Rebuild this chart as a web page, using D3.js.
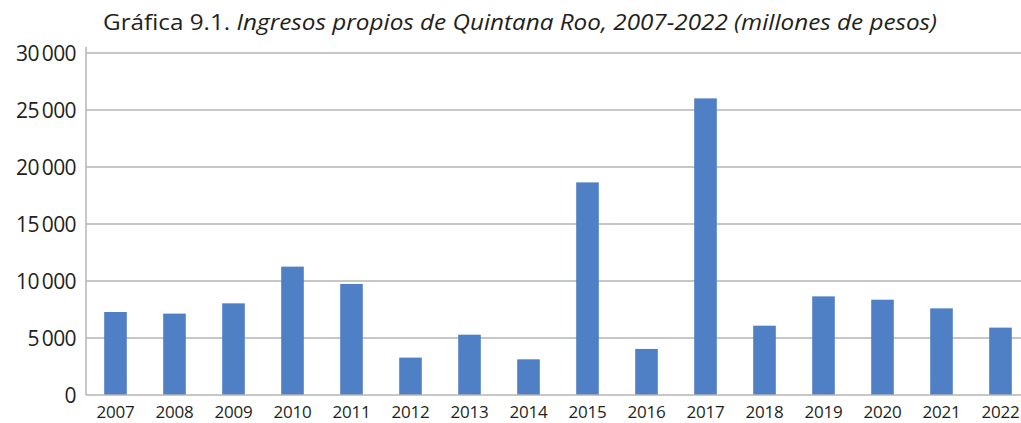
<!DOCTYPE html>
<html>
<head>
<meta charset="utf-8">
<script src="https://cdn.jsdelivr.net/npm/d3@7"></script>
<style>
  html, body { margin: 0; padding: 0; background: #fff; }
  svg { display: block; }
  text { font-family: "Open Sans", "Noto Sans", sans-serif; fill: #231f20; }
</style>
</head>
<body>
<svg id="chart" width="1021" height="423"></svg>
<script>
// Ingresos propios de Quintana Roo (millones de pesos)
const years = ["2007","2008","2009","2010","2011","2012","2013","2014",
               "2015","2016","2017","2018","2019","2020","2021","2022"];
const ingresos = [7280, 7140, 8040, 11260, 9740, 3280, 5290, 3130,
                  18650, 4040, 26020, 6080, 8650, 8360, 7600, 5910];
const yTicks = [0, 5000, 10000, 15000, 20000, 25000, 30000];
const yTickLabels = ["0", "5\u2009000", "10\u2009000", "15\u2009000", "20\u2009000", "25\u2009000", "30\u2009000"];

const svg = d3.select("#chart");

const x = d3.scaleBand()
  .domain(years)
  .range([86, 1030])
  .paddingInner(0.617)
  .paddingOuter(0.3085);

const y = d3.scaleLinear()
  .domain([0, 30000])
  .range([395, 53]);

// horizontal gridlines
svg.append("g")
  .selectAll("line")
  .data(yTicks.filter(d => d > 0))
  .join("line")
  .attr("x1", 86).attr("x2", 1021)
  .attr("y1", d => y(d)).attr("y2", d => y(d))
  .attr("stroke", "#b5b5b5").attr("stroke-width", 1.5);

// bars
svg.append("g")
  .selectAll("rect")
  .data(years.map((yr, i) => ({ yr, v: ingresos[i] })))
  .join("rect")
  .attr("x", d => x(d.yr))
  .attr("width", x.bandwidth())
  .attr("y", d => y(d.v))
  .attr("height", d => y(0) - y(d.v))
  .attr("fill", "#4f7fc4");

// axis lines
svg.append("line")
  .attr("x1", 86).attr("x2", 86).attr("y1", 47).attr("y2", 395)
  .attr("stroke", "#b5b5b5").attr("stroke-width", 1.5);
svg.append("line")
  .attr("x1", 86).attr("x2", 1021).attr("y1", y(0)).attr("y2", y(0))
  .attr("stroke", "#b5b5b5").attr("stroke-width", 1.5);

// y tick labels
svg.append("g")
  .selectAll("text")
  .data(yTicks)
  .join("text")
  .attr("x", 76)
  .attr("y", d => y(d))
  .attr("dy", "0.36em")
  .attr("text-anchor", "end")
  .attr("font-size", 21)
  .attr("letter-spacing", -0.6)
  .text((d, i) => yTickLabels[i]);

// x tick labels
svg.append("g")
  .selectAll("text")
  .data(years)
  .join("text")
  .attr("x", d => x(d) + x.bandwidth() / 2)
  .attr("y", 418)
  .attr("text-anchor", "middle")
  .attr("font-size", 17)
  .attr("letter-spacing", -0.2)
  .text(d => d);

// title
const title = svg.append("text")
  .attr("x", 103)
  .attr("y", 30)
  .attr("font-size", 22)
  .attr("textLength", 834)
  .attr("lengthAdjust", "spacingAndGlyphs");
title.append("tspan").text("Gráfica 9.1. ");
title.append("tspan").attr("font-style", "italic")
  .text("Ingresos propios de Quintana Roo, 2007-2022 (millones de pesos)");
</script>
</body>
</html>
